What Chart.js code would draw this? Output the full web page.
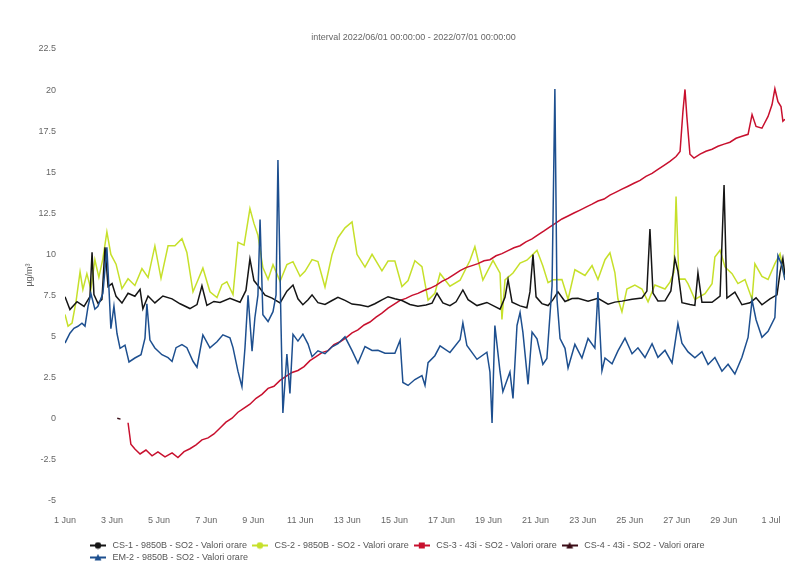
<!DOCTYPE html>
<html>
<head>
<meta charset="utf-8">
<script src="https://cdn.jsdelivr.net/npm/chart.js"></script>
<style>
  html, body { margin: 0; padding: 0; background: #ffffff; overflow: hidden; }
  #wrap { width: 790px; height: 579px; position: relative; }
</style>
</head>
<body>
<div id="wrap"><canvas id="c" width="790" height="579"></canvas></div>
<script>
// ---- Data (x = days since 2022-06-01 00:00, y = µg/m³) ----
const titleText = 'interval 2022/06/01 00:00:00 - 2022/07/01 00:00:00';
const yTitle = 'µg/m³';
const seriesNames = [
  'CS-1 - 9850B - SO2 - Valori orare',
  'CS-2 - 9850B - SO2 - Valori orare',
  'CS-3 - 43i - SO2 - Valori orare',
  'CS-4 - 43i - SO2 - Valori orare',
  'EM-2 - 9850B - SO2 - Valori orare'
];
const tickDays = [0, 2, 4, 6, 8, 10, 12, 14, 16, 18, 20, 22, 24, 26, 28, 30];
const tickLabels = ['1 Jun', '3 Jun', '5 Jun', '7 Jun', '9 Jun', '11 Jun', '13 Jun', '15 Jun',
                    '17 Jun', '19 Jun', '21 Jun', '23 Jun', '25 Jun', '27 Jun', '29 Jun', '1 Jul'];

const cs1 = [
  [0,7.43],[0.21,6.65],[0.51,7.13],[0.81,6.84],[1.06,7.44],[1.15,10.13],[1.23,7.56],[1.40,7.03],
  [1.57,7.27],[1.70,10.44],[1.83,8.05],[2.00,8.23],[2.17,7.45],[2.42,7.04],[2.68,7.64],[2.97,7.46],
  [3.19,7.88],[3.31,6.69],[3.53,7.47],[3.82,7.05],[4.16,7.47],[4.55,7.30],[4.89,7.00],[5.31,6.71],
  [5.61,6.95],[5.82,8.09],[6.03,6.90],[6.33,7.14],[6.59,7.08],[7.01,7.33],[7.44,7.09],[7.69,7.81],
  [7.86,9.73],[8.03,8.41],[8.20,8.11],[8.50,7.52],[8.80,7.34],[9.14,7.05],[9.43,7.77],[9.69,8.14],
  [9.90,7.30],[10.11,6.94],[10.33,7.24],[10.50,7.54],[10.75,7.07],[11.05,6.96],[11.35,7.20],[11.60,7.39],
  [11.90,7.21],[12.20,6.98],[12.54,6.93],[12.88,6.82],[13.17,7.00],[13.47,7.24],[13.73,7.43],[14.02,7.31],
  [14.32,7.20],[14.66,6.96],[15.00,6.85],[15.34,6.92],[15.60,7.04],[15.81,7.64],[16.06,7.05],[16.36,6.88],
  [16.62,7.12],[16.91,7.84],[17.13,7.25],[17.51,6.89],[17.93,7.08],[18.49,6.67],[18.70,7.39],[18.83,8.47],
  [19.00,7.10],[19.34,6.87],[19.63,6.76],[19.76,7.72],[19.89,9.99],[20.02,7.42],[20.27,7.01],[20.53,6.89],
  [20.74,7.25],[20.95,7.73],[21.25,7.14],[21.55,7.32],[21.80,7.33],[22.23,7.15],[22.65,7.33],[23.08,6.97],
  [23.37,7.10],[23.67,7.16],[24.10,7.28],[24.52,7.35],[24.73,7.77],[24.86,11.55],[24.99,7.65],[25.20,7.17],
  [25.50,7.18],[25.75,7.78],[25.92,9.76],[26.05,8.99],[26.22,7.07],[26.56,6.96],[26.77,6.90],[26.90,8.88],
  [27.07,7.09],[27.50,7.09],[27.84,7.46],[28.01,14.23],[28.13,7.35],[28.47,7.71],[28.77,6.94],[29.11,7.06],
  [29.37,7.36],[29.62,6.94],[29.96,7.30],[30.26,7.54],[30.39,8.92],[30.51,9.76],[30.60,8.74]
];

const cs2 = [
  [0,6.35],[0.13,5.64],[0.30,5.83],[0.47,7.15],[0.64,8.94],[0.76,7.87],[0.93,8.83],[1.10,7.88],
  [1.27,9.68],[1.44,8.61],[1.61,9.75],[1.78,11.37],[1.95,10.0],[2.17,9.41],[2.42,7.92],[2.68,8.52],
  [2.97,8.11],[3.27,9.14],[3.53,8.60],[3.82,10.52],[4.08,8.55],[4.38,10.53],[4.67,10.53],[4.97,10.96],
  [5.18,10.12],[5.44,7.73],[5.65,8.45],[5.86,9.17],[6.16,7.73],[6.46,7.38],[6.67,8.16],[6.88,8.34],
  [7.14,7.56],[7.35,10.74],[7.61,10.57],[7.86,12.79],[8.03,11.89],[8.20,11.17],[8.41,9.20],[8.63,8.48],
  [8.84,9.38],[9.14,8.36],[9.43,9.38],[9.69,9.56],[9.99,8.67],[10.20,8.97],[10.50,9.69],[10.75,9.57],
  [11.05,8.02],[11.35,10.0],[11.60,11.02],[11.90,11.62],[12.20,11.98],[12.41,10.01],[12.75,9.23],[13.05,10.01],
  [13.47,9.0],[13.73,9.60],[14.02,9.60],[14.32,8.05],[14.58,8.41],[14.87,9.62],[15.17,9.26],[15.43,7.22],
  [15.72,7.64],[15.94,8.84],[16.36,8.07],[16.79,8.43],[17.21,9.63],[17.42,10.47],[17.76,8.44],[18.19,9.64],
  [18.49,8.86],[18.57,6.05],[18.70,8.45],[19.04,8.87],[19.34,9.47],[19.63,9.65],[20.06,10.25],[20.31,9.30],
  [20.53,8.28],[20.74,8.46],[21.12,8.47],[21.38,7.27],[21.67,9.07],[22.10,8.72],[22.40,9.32],[22.65,8.48],
  [22.95,9.68],[23.16,10.10],[23.37,8.90],[23.50,7.29],[23.67,6.51],[23.88,7.89],[24.22,8.13],[24.52,7.90],
  [24.78,7.12],[25.07,8.14],[25.50,7.90],[25.71,8.32],[25.88,8.92],[25.97,13.53],[26.09,8.50],[26.35,8.51],
  [26.48,8.21],[26.77,7.26],[27.20,7.62],[27.50,8.22],[27.62,9.84],[27.84,10.26],[28.05,9.24],[28.35,8.83],
  [28.60,8.23],[28.90,8.47],[29.20,7.27],[29.32,9.43],[29.62,8.66],[29.88,8.48],[30.17,9.44],[30.39,10.04],
  [30.60,8.49]
];

const cs3 = [
  [2.68,-0.24],[2.80,-1.55],[2.97,-1.84],[3.19,-2.14],[3.44,-1.90],[3.70,-2.25],[3.95,-2.01],[4.25,-2.31],
  [4.55,-2.07],[4.80,-2.36],[5.06,-2.00],[5.31,-1.82],[5.57,-1.58],[5.82,-1.28],[6.08,-1.16],[6.33,-0.92],
  [6.59,-0.56],[6.84,-0.20],[7.10,0.04],[7.35,0.40],[7.61,0.65],[7.86,0.89],[8.12,1.25],[8.37,1.49],
  [8.63,1.85],[8.88,1.98],[9.14,2.34],[9.39,2.58],[9.65,2.82],[9.90,2.94],[10.16,3.18],[10.41,3.54],
  [10.67,3.78],[10.92,4.03],[11.18,4.15],[11.43,4.51],[11.69,4.69],[11.94,4.93],[12.20,5.23],[12.45,5.41],
  [12.71,5.71],[12.96,5.89],[13.22,6.19],[13.47,6.43],[13.73,6.73],[13.98,6.97],[14.24,7.21],[14.49,7.33],
  [14.75,7.51],[15.00,7.63],[15.26,7.81],[15.51,7.94],[15.77,8.12],[16.02,8.36],[16.28,8.54],[16.53,8.78],
  [16.79,9.02],[17.04,9.20],[17.30,9.32],[17.55,9.44],[17.81,9.62],[18.06,9.68],[18.32,9.92],[18.57,10.05],
  [18.83,10.23],[19.08,10.41],[19.34,10.53],[19.59,10.77],[19.85,10.95],[20.10,11.19],[20.36,11.43],[20.61,11.68],
  [20.87,11.92],[21.12,12.16],[21.38,12.34],[21.63,12.52],[21.89,12.70],[22.14,12.88],[22.40,13.06],[22.65,13.25],
  [22.91,13.37],[23.16,13.61],[23.42,13.79],[23.67,13.97],[23.93,14.15],[24.18,14.33],[24.44,14.51],[24.69,14.75],
  [24.95,14.93],[25.20,15.17],[25.46,15.42],[25.71,15.66],[25.97,15.96],[26.14,16.26],[26.26,18.66],[26.35,20.04],
  [26.43,18.37],[26.56,16.10],[26.73,15.86],[26.99,16.10],[27.24,16.28],[27.50,16.40],[27.75,16.58],[28.01,16.71],
  [28.26,16.83],[28.52,17.07],[28.77,17.19],[29.03,17.31],[29.20,18.51],[29.37,17.79],[29.62,17.68],[29.88,18.40],
  [30.05,19.12],[30.17,20.08],[30.30,19.30],[30.43,19.00],[30.51,18.11],[30.60,18.23]
];

const cs4 = [[2.22,0.03],[2.36,-0.02]];

const em2 = [
  [0,4.61],[0.21,5.21],[0.38,5.51],[0.55,5.63],[0.72,5.82],[0.85,5.64],[0.98,6.84],[1.10,7.62],
  [1.27,6.67],[1.40,6.85],[1.61,7.63],[1.78,10.44],[1.87,7.87],[1.95,5.48],[2.08,6.86],[2.21,5.19],
  [2.34,4.29],[2.55,4.48],[2.72,3.46],[2.97,3.70],[3.23,3.90],[3.40,4.91],[3.48,7.0],[3.61,4.79],
  [3.82,4.31],[4.12,3.90],[4.38,3.72],[4.55,3.49],[4.72,4.33],[4.97,4.51],[5.18,4.33],[5.44,3.50],
  [5.61,3.14],[5.86,5.10],[6.16,4.32],[6.46,4.69],[6.71,5.11],[7.01,4.93],[7.14,4.33],[7.35,2.90],
  [7.52,1.95],[7.65,4.34],[7.78,7.51],[7.95,4.11],[8.07,6.15],[8.20,7.52],[8.29,12.13],[8.41,6.33],
  [8.63,5.92],[8.84,6.52],[8.97,7.54],[9.05,15.74],[9.18,5.75],[9.26,0.36],[9.43,3.94],[9.56,1.55],
  [9.69,5.14],[9.90,4.73],[10.11,5.15],[10.33,4.55],[10.50,3.78],[10.75,4.14],[11.05,3.96],[11.35,4.38],
  [11.60,4.57],[11.90,4.99],[12.20,4.15],[12.45,3.38],[12.75,4.40],[13.05,4.16],[13.30,4.17],[13.60,3.99],
  [14.02,3.99],[14.24,4.78],[14.36,2.21],[14.58,2.03],[14.87,2.39],[15.17,2.63],[15.30,2.04],[15.43,3.42],
  [15.72,3.84],[15.94,4.44],[16.36,4.03],[16.79,4.81],[16.91,5.83],[17.08,4.46],[17.51,3.62],[17.93,4.05],
  [18.06,2.85],[18.15,-0.26],[18.27,5.67],[18.49,2.85],[18.61,1.65],[18.91,2.85],[19.04,1.24],[19.21,5.68],
  [19.34,6.47],[19.46,5.27],[19.68,2.10],[19.85,5.28],[20.06,4.86],[20.31,3.31],[20.48,3.67],[20.70,8.10],
  [20.82,20.07],[20.91,7.27],[21.04,4.88],[21.25,4.29],[21.38,3.09],[21.67,4.53],[21.97,3.70],[22.23,4.89],
  [22.52,4.30],[22.65,7.71],[22.82,2.92],[22.95,3.70],[23.25,3.35],[23.50,4.13],[23.80,4.91],[24.10,3.96],
  [24.35,4.32],[24.65,3.73],[24.95,4.57],[25.20,3.74],[25.50,4.17],[25.80,3.40],[26.05,5.79],[26.22,4.60],
  [26.48,4.07],[26.77,3.71],[27.07,4.08],[27.33,3.31],[27.62,3.73],[27.92,2.90],[28.18,3.32],[28.47,2.73],
  [28.77,3.75],[29.03,4.95],[29.20,7.22],[29.37,6.03],[29.62,4.96],[29.88,5.32],[30.17,6.16],[30.30,9.93],
  [30.47,9.33],[30.60,8.44]
];

// ---- Styles ----
const colors = ['#151515', '#c6e02a', '#c8102e', '#3a0c16', '#1d4f8f'];
const shapes = ['circle', 'circle', 'rect', 'triangle', 'triangle'];
const drawOrder = [2, 4, 3, 0, 1]; // lower = drawn on top
const seriesData = [cs1, cs2, cs3, cs4, em2];

function makeMarker(color, shape) {
  const c = document.createElement('canvas');
  c.width = 16; c.height = 8;
  const g = c.getContext('2d');
  g.strokeStyle = color; g.fillStyle = color; g.lineWidth = 2;
  g.beginPath(); g.moveTo(0, 4); g.lineTo(16, 4); g.stroke();
  g.beginPath();
  if (shape === 'circle') { g.arc(8, 4, 3.2, 0, Math.PI * 2); }
  else if (shape === 'rect') { g.rect(5, 1, 6, 6); }
  else { g.moveTo(8, 0.5); g.lineTo(11.5, 7); g.lineTo(4.5, 7); g.closePath(); }
  g.fill();
  return c;
}
const markers = colors.map((c, i) => makeMarker(c, shapes[i]));

const datasets = seriesNames.map((name, i) => ({
  label: name,
  data: seriesData[i].map(p => ({ x: p[0], y: p[1] })),
  borderColor: colors[i],
  backgroundColor: colors[i],
  borderWidth: 1.5,
  pointRadius: 0,
  pointHoverRadius: 0,
  tension: 0,
  fill: false,
  order: drawOrder[i]
}));

const shiftPlugin = {
  id: 'shiftBoxes',
  afterLayout(chart) {
    if (chart.legend) { chart.legend.left += 20; chart.legend.right += 20; }
    if (chart.titleBlock) { chart.titleBlock.left += 42; }
  }
};

const txt = '#666666';
const fam = '"Liberation Sans", Arial, sans-serif';

new Chart(document.getElementById('c'), {
  type: 'line',
  data: { datasets },
  plugins: [shiftPlugin],
  options: {
    responsive: false,
    animation: false,
    events: [],
    layout: { padding: { top: 32.6, bottom: 7, left: 0, right: 5 } },
    scales: {
      x: {
        type: 'linear',
        min: 0,
        max: 30.6,
        grid: { display: false, drawTicks: false },
        border: { display: false },
        afterBuildTicks: s => { s.ticks = tickDays.map(v => ({ value: v })); },
        afterFit: s => { s.height = 37; s.paddingLeft = 0; s.paddingRight = 0; },
        ticks: {
          autoSkip: false, maxRotation: 0, padding: 14,
          color: txt, font: { family: fam, size: 9 },
          callback: (v) => { const k = tickDays.indexOf(v); return k >= 0 ? tickLabels[k] : ''; }
        }
      },
      y: {
        min: -5,
        max: 22.5,
        grid: { display: false, drawTicks: false },
        border: { display: false },
        afterFit: s => { s.width = 65; },
        ticks: {
          stepSize: 2.5, padding: 9,
          color: txt, font: { family: fam, size: 9 },
          callback: v => String(v)
        },
        title: {
          display: true, text: yTitle, color: txt,
          font: { family: fam, size: 9 },
          padding: { top: 24.6, bottom: 0 }
        }
      }
    },
    plugins: {
      title: {
        display: true, text: titleText, color: txt,
        font: { family: fam, size: 9, weight: 'normal' },
        padding: { top: 0, bottom: 5.6 }
      },
      legend: {
        display: true,
        position: 'bottom',
        align: 'start',
        fullSize: false,
        labels: {
          usePointStyle: true,
          pointStyleWidth: 20,
          padding: 3,
          color: '#555555',
          font: { family: fam, size: 9 },
          sort: (a, b) => a.datasetIndex - b.datasetIndex,
          generateLabels: (chart) => {
            const items = Chart.defaults.plugins.legend.labels.generateLabels(chart);
            items.forEach(it => { it.pointStyle = markers[it.datasetIndex]; });
            return items;
          }
        }
      },
      tooltip: { enabled: false }
    }
  }
});
</script>
</body>
</html>
